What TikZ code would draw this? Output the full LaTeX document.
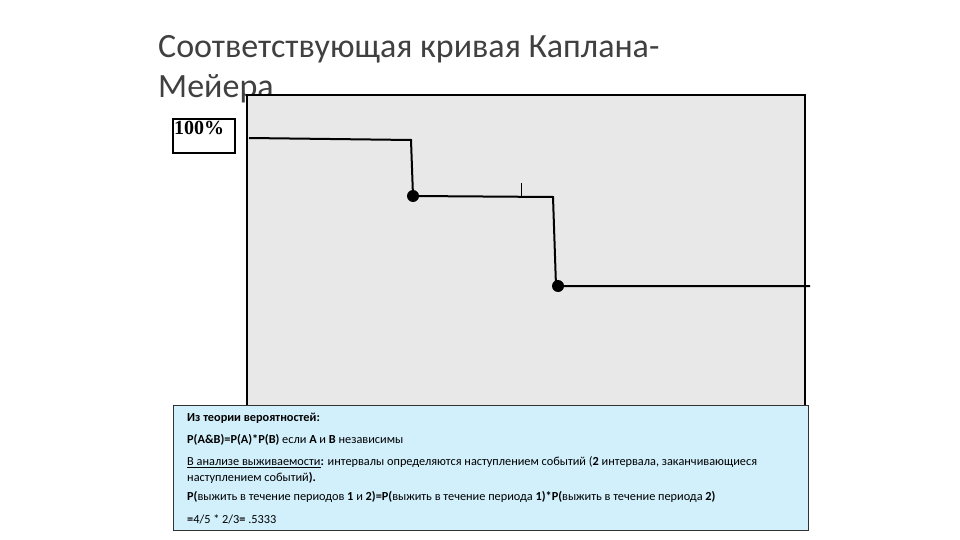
\documentclass[tikz,border=0pt]{standalone}
\usepackage{fontspec}
\setmainfont{Carlito}
\newfontfamily\serifz{Liberation Serif}
\begin{document}
\begin{tikzpicture}[x=1pt,y=-1pt,
  curve/.style={line width=2pt,black},
  dotn/.style={circle,fill=black,inner sep=0pt,minimum size=12pt},
  txt/.style={anchor=west,inner sep=0pt,font=\fontsize{12.3}{14}\selectfont}]
\useasboundingbox (0,0) rectangle (960,540);
\node[anchor=base west,inner sep=0pt,font=\fontsize{34}{36}\selectfont,text=black!75] at (158,58) {Соответствующая кривая Каплана-};
\node[anchor=base west,inner sep=0pt,font=\fontsize{34}{36}\selectfont,text=black!75] at (158,98) {Мейера};
\draw[line width=1.5pt,fill=black!9] (247,95) rectangle (805,412);
\node[draw,line width=1.2pt,minimum width=62pt,minimum height=34pt,inner sep=0pt] (lab) at (204,136) {};
\node[anchor=north west,inner sep=1pt,font=\serifz\bfseries\fontsize{20}{21}\selectfont] at (173,120) {100\%};
\coordinate (a) at (249,138);
\coordinate (b) at (411,140);
\node[dotn] (d1) at (413,196) {};
\coordinate (c) at (553,197);
\node[dotn] (d2) at (558,286) {};
\coordinate (e) at (810,286);
\draw[curve] (a) -- (b) -- (d1.center) -- (c) -- (556,286) -- (d2.center) -- (e);
\draw[line width=0.6pt] (521,183) -- (521,196);
\draw[line width=0.8pt,fill=cyan!18!white,draw=black!80] (173,405) rectangle (808,530);
\node[txt,font=\bfseries\fontsize{12.3}{14}\selectfont] at (187,418) {Из теории вероятностей:};
\node[txt] at (187,440) {\textbf{P(A\&B)=P(A)*P(B)} если \textbf{A} и \textbf{B} независимы};
\node[txt] at (187,462) {\underline{В анализе выживаемости}\textbf{:} интервалы определяются наступлением событий (\textbf{2} интервала, заканчивающиеся};
\node[txt] at (187,478) {наступлением событий\textbf{).}};
\node[txt] at (187,497) {\textbf{P(}выжить в течение периодов \textbf{1} и \textbf{2)=P(}выжить в течение периода \textbf{1)*P(}выжить в течение периода \textbf{2)}};
\node[txt] at (187,519) {\textbf{=}4/5 * 2/3\textbf{=} .5333};
\end{tikzpicture}
\end{document}
